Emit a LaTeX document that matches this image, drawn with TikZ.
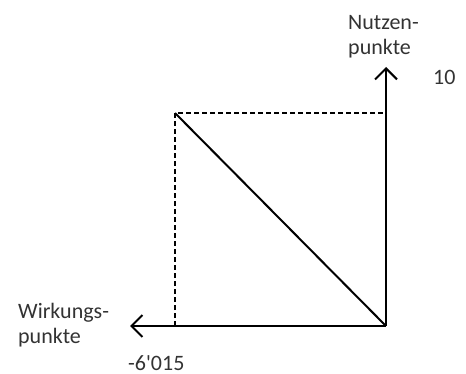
\documentclass[tikz,border=0pt]{standalone}
\usepackage{fontspec}
\setmainfont{Carlito}[Ligatures=TeXOff]
\usetikzlibrary{arrows.meta}
\begin{document}
\begin{tikzpicture}[x=1pt,y=-1pt,
  axis/.style={line width=2pt,-{Straight Barb[length=11pt,width=22pt,line width=2pt]}},
  guide/.style={line width=2pt,dash pattern=on 5pt off 3pt},
  diag/.style={line width=2pt},
  lbl/.style={inner sep=0pt,font=\fontsize{22}{25}\selectfont,text=black!80,align=left}]
\useasboundingbox (0,0) rectangle (466,374);
\coordinate (O) at (386,326);
\coordinate (Y) at (386,67);
\coordinate (X) at (130,326);
\coordinate (C) at (175,113);
\coordinate (CY) at (386,113);
\coordinate (CX) at (175,326);
\draw[axis] (O) -- (Y);
\draw[axis] (O) -- (X);
\draw[guide] (CX) -- (C) -- (CY);
\draw[diag] (C) -- (O);
\node[lbl,anchor=base west] (nutzen) at (348,55) {Nutzen-\\punkte};
\node[lbl,anchor=base west] (ten) at (433,85) {10};
\node[lbl,anchor=base west] (wirkung) at (18,343) {Wirkungs-\\punkte};
\node[lbl,anchor=base west] (minus) at (128,370) {-6'015};
\end{tikzpicture}
\end{document}
